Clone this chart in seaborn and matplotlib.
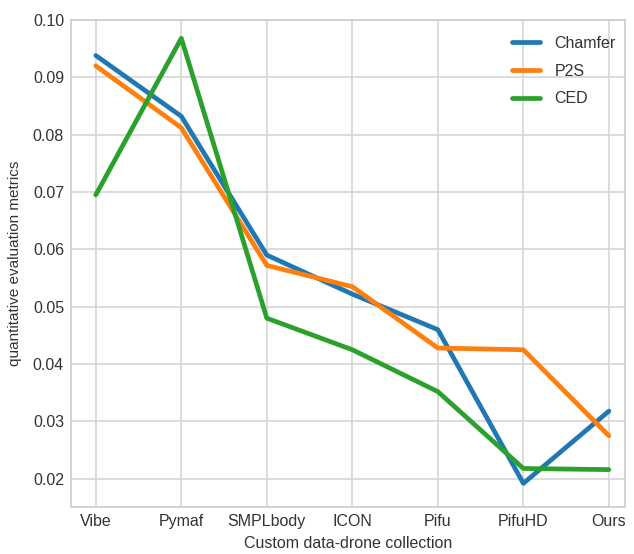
import matplotlib
matplotlib.use("Agg")
import matplotlib.pyplot as plt
import seaborn as sns
import pandas as pd

categories = ["Vibe", "Pymaf", "SMPLbody", "ICON", "Pifu", "PifuHD", "Ours"]
chamfer = [0.0938, 0.0832, 0.0590, 0.0522, 0.0460, 0.0192, 0.0318]
p2s = [0.0920, 0.0812, 0.0572, 0.0535, 0.0428, 0.0425, 0.0275]
ced = [0.0695, 0.0968, 0.0480, 0.0425, 0.0352, 0.0218, 0.0216]
yticks = [0.02, 0.03, 0.04, 0.05, 0.06, 0.07, 0.08, 0.09, 0.10]

sns.set_theme(style="whitegrid")
plt.rcParams['font.family'] = ['Liberation Sans', 'DejaVu Sans']

df = pd.DataFrame({
    "x": list(range(len(categories))) * 3,
    "value": chamfer + p2s + ced,
    "metric": ["Chamfer"] * 7 + ["P2S"] * 7 + ["CED"] * 7,
})

fig = plt.figure(figsize=(6.34, 5.54), dpi=100)
ax = fig.add_axes([0.112, 0.085, 0.874, 0.879])
sns.lineplot(data=df, x="x", y="value", hue="metric", ax=ax, linewidth=3.4,
             palette=["#1f77b4", "#ff7f0e", "#2ca02c"])
ax.set_xticks(range(len(categories)))
ax.set_xticklabels(categories, fontsize=11.5, color="#333333")
ax.set_yticks(yticks)
ax.set_yticklabels([f"{v:.2f}" for v in yticks], fontsize=11.5, color="#333333")
ax.set_xlim(-0.29, 6.19)
ax.set_ylim(0.0151, 0.1)
ax.set_xlabel("Custom data-drone collection", fontsize=11.5, color="#333333", labelpad=5)
ax.set_ylabel("quantitative evaluation metrics", fontsize=11, color="#333333", labelpad=8)
ax.tick_params(axis="both", length=0, pad=5)
for s in ax.spines.values():
    s.set_color("#cccccc")
    s.set_linewidth(1.2)
ax.grid(color="#d5d5d5", linewidth=1.2)
leg = ax.legend(loc="upper right", bbox_to_anchor=(1.012, 1.0), frameon=False,
                fontsize=11.5, handlelength=1.75, handletextpad=0.9,
                labelspacing=0.8, borderaxespad=0.6)
for t in leg.get_texts():
    t.set_color("#333333")
fig.savefig("out.png", dpi=100)
